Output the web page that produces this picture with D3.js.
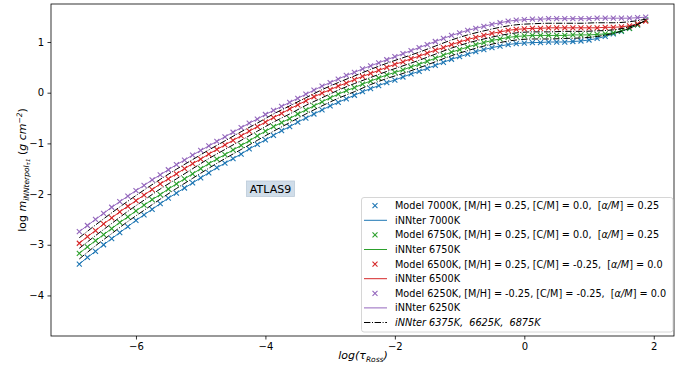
<!DOCTYPE html>
<html lang="en">
<head>
<meta charset="utf-8">
<title>atlas9 column mass</title>
<script src="https://cdn.jsdelivr.net/npm/d3@7"></script>
<style>
body { margin: 0; background: #fff; }
text { font-family: "DejaVu Sans", sans-serif; white-space: pre; }
</style>
</head>
<body>
<div id="chart"></div>
<script>
// log tau grid of the models
var tau = [-6.875,-6.75,-6.625,-6.5,-6.375,-6.25,-6.125,-6.0,-5.875,-5.75,-5.625,-5.5,-5.375,-5.25,-5.125,-5.0,
  -4.875,-4.75,-4.625,-4.5,-4.375,-4.25,-4.125,-4.0,-3.875,-3.75,-3.625,-3.5,-3.375,-3.25,-3.125,-3.0,
  -2.875,-2.75,-2.625,-2.5,-2.375,-2.25,-2.125,-2.0,-1.875,-1.75,-1.625,-1.5,-1.375,-1.25,-1.125,-1.0,
  -0.875,-0.75,-0.625,-0.5,-0.375,-0.25,-0.125,0.0,0.125,0.25,0.375,0.5,0.625,0.75,0.875,1.0,
  1.125,1.25,1.375,1.5,1.625,1.75,1.875];

var m7000 = [-3.38,-3.25,-3.13,-3.00,-2.88,-2.76,-2.64,-2.52,-2.41,-2.30,-2.19,-2.08,-1.98,-1.88,-1.78,-1.68,
  -1.58,-1.48,-1.39,-1.30,-1.21,-1.11,-1.02,-0.93,-0.84,-0.75,-0.67,-0.58,-0.50,-0.42,-0.34,-0.26,
  -0.19,-0.12,-0.05,0.02,0.08,0.14,0.20,0.25,0.31,0.37,0.42,0.48,0.54,0.60,0.66,0.71,
  0.76,0.81,0.85,0.89,0.92,0.95,0.97,0.98,0.99,0.99,1.00,1.00,1.00,1.01,1.02,1.04,
  1.07,1.11,1.16,1.21,1.27,1.34,1.43];
var m6750 = [-3.17,-3.04,-2.92,-2.80,-2.68,-2.56,-2.45,-2.33,-2.22,-2.11,-2.01,-1.90,-1.80,-1.70,-1.60,-1.50,
  -1.40,-1.31,-1.22,-1.13,-1.04,-0.95,-0.85,-0.76,-0.67,-0.59,-0.51,-0.42,-0.34,-0.26,-0.18,-0.10,
  -0.03,0.04,0.10,0.17,0.23,0.29,0.35,0.40,0.45,0.51,0.56,0.62,0.68,0.74,0.80,0.85,
  0.90,0.95,0.99,1.03,1.06,1.09,1.11,1.12,1.13,1.13,1.13,1.13,1.13,1.14,1.14,1.14,
  1.15,1.16,1.18,1.22,1.27,1.34,1.43];
var m6500 = [-2.97,-2.84,-2.72,-2.59,-2.47,-2.35,-2.24,-2.13,-2.02,-1.91,-1.80,-1.70,-1.60,-1.50,-1.40,-1.31,
  -1.21,-1.12,-1.03,-0.94,-0.85,-0.76,-0.67,-0.58,-0.49,-0.41,-0.32,-0.24,-0.16,-0.08,-0.01,0.06,
  0.13,0.19,0.26,0.32,0.38,0.44,0.50,0.56,0.61,0.67,0.72,0.78,0.84,0.89,0.95,1.00,
  1.05,1.09,1.13,1.17,1.20,1.23,1.25,1.26,1.27,1.27,1.28,1.28,1.28,1.28,1.28,1.28,
  1.28,1.29,1.29,1.30,1.32,1.36,1.41];
var m6250 = [-2.74,-2.62,-2.50,-2.38,-2.26,-2.15,-2.04,-1.93,-1.83,-1.72,-1.62,-1.52,-1.42,-1.33,-1.23,-1.14,
  -1.05,-0.96,-0.87,-0.78,-0.69,-0.60,-0.52,-0.43,-0.35,-0.27,-0.19,-0.11,-0.03,0.05,0.13,0.20,
  0.27,0.34,0.40,0.47,0.53,0.59,0.65,0.71,0.77,0.83,0.89,0.95,1.01,1.07,1.13,1.18,
  1.23,1.27,1.31,1.35,1.38,1.41,1.43,1.44,1.45,1.45,1.46,1.46,1.46,1.46,1.46,1.46,
  1.47,1.47,1.47,1.47,1.47,1.48,1.49];

// interpolated temperatures (dash-dot), every second grid point
var tauI = [-6.875,-6.625,-6.375,-6.125,-5.875,-5.625,-5.375,-5.125,-4.875,-4.625,-4.375,-4.125,
  -3.875,-3.625,-3.375,-3.125,-2.875,-2.625,-2.375,-2.125,-1.875,-1.625,-1.375,-1.125,
  -0.875,-0.625,-0.375,-0.125,0.125,0.375,0.625,0.875,1.125,1.375,1.625,1.875];
var i6875 = [-3.28,-3.02,-2.78,-2.54,-2.32,-2.10,-1.89,-1.69,-1.49,-1.30,-1.12,-0.94,
  -0.76,-0.59,-0.42,-0.26,-0.11,0.02,0.16,0.28,0.38,0.49,0.61,0.73,
  0.83,0.92,0.99,1.04,1.06,1.06,1.07,1.08,1.11,1.17,1.27,1.43];
var i6625 = [-3.07,-2.82,-2.58,-2.34,-2.12,-1.90,-1.70,-1.50,-1.30,-1.12,-0.94,-0.76,
  -0.58,-0.42,-0.25,-0.10,0.05,0.18,0.30,0.42,0.53,0.64,0.76,0.88,
  0.98,1.06,1.13,1.18,1.20,1.20,1.21,1.21,1.22,1.24,1.30,1.42];
var i6375 = [-2.86,-2.61,-2.37,-2.14,-1.92,-1.71,-1.51,-1.32,-1.13,-0.95,-0.77,-0.60,
  -0.42,-0.26,-0.10,0.06,0.20,0.33,0.46,0.58,0.69,0.80,0.92,1.04,
  1.14,1.22,1.29,1.34,1.36,1.37,1.37,1.37,1.38,1.38,1.40,1.45];

var xTicks = [-6, -4, -2, 0, 2];
var yTicks = [1, 0, -1, -2, -3, -4];

var series = [
  {m: m7000, color: "#1f77b4", label: "Model 7000K, [M/H] = 0.25, [C/M] = 0.0,  ", a: "0.25", line: "iNNter 7000K"},
  {m: m6750, color: "#2ca02c", label: "Model 6750K, [M/H] = 0.25, [C/M] = 0.0,  ", a: "0.25", line: "iNNter 6750K"},
  {m: m6500, color: "#d62728", label: "Model 6500K, [M/H] = 0.25, [C/M] = -0.25,  ", a: "0.0", line: "iNNter 6500K"},
  {m: m6250, color: "#9467bd", label: "Model 6250K, [M/H] = -0.25, [C/M] = -0.25,  ", a: "0.0", line: "iNNter 6250K"}
];

var W = 691, H = 369;
var pL = 51, pR = 674, pT = 4, pB = 336;

var svg = d3.select("#chart").append("svg")
  .attr("width", W).attr("height", H);

var x = d3.scaleLinear().domain([-7.3125, 2.3125]).range([pL, pR]);
var y = d3.scaleLinear().domain([-4.8, 1.75]).range([pB, pT]);

function minus(v) { return String(v).replace("-", "\u2212"); }

// axes
var xAxis = svg.append("g").attr("transform", "translate(0," + pB + ")")
  .call(d3.axisBottom(x).tickValues(xTicks).tickSize(3.5).tickPadding(3.5).tickFormat(minus));
var yAxis = svg.append("g").attr("transform", "translate(" + pL + ",0)")
  .call(d3.axisLeft(y).tickValues(yTicks).tickSize(3.5).tickPadding(3.5).tickFormat(minus));
[xAxis, yAxis].forEach(function(g) {
  g.select(".domain").remove();
  g.selectAll("line").attr("stroke", "#000").attr("stroke-width", 0.8);
  g.selectAll("text").attr("font-family", "DejaVu Sans").attr("font-size", "10px").attr("fill", "#000");
});

var line = d3.line().x(function(d, i) { return x(tau[i]); }).y(function(d) { return y(d); });
var lineI = d3.line().x(function(d, i) { return x(tauI[i]); }).y(function(d) { return y(d); });

function cross(g, cx, cy, color) {
  var s = 2.5;
  g.append("path")
    .attr("d", "M" + (cx - s) + "," + (cy - s) + "L" + (cx + s) + "," + (cy + s) +
               "M" + (cx - s) + "," + (cy + s) + "L" + (cx + s) + "," + (cy - s))
    .attr("stroke", color).attr("stroke-width", 1.1).attr("fill", "none");
}

var plot = svg.append("g");
series.forEach(function(s) {
  s.m.forEach(function(v, i) { cross(plot, x(tau[i]), y(v), s.color); });
  plot.append("path").datum(s.m).attr("d", line)
    .attr("fill", "none").attr("stroke", s.color).attr("stroke-width", 1);
});
[i6875, i6625, i6375].forEach(function(arr) {
  plot.append("path").datum(arr).attr("d", lineI.curve(d3.curveMonotoneX))
    .attr("fill", "none").attr("stroke", "#000").attr("stroke-width", 1)
    .attr("stroke-dasharray", "6.4,1.6,1,1.6");
});

// frame
svg.append("rect").attr("x", pL).attr("y", pT)
  .attr("width", pR - pL).attr("height", pB - pT)
  .attr("fill", "none").attr("stroke", "#000").attr("stroke-width", 0.8);

// ATLAS9 label
svg.append("rect").attr("x", 246.5).attr("y", 181).attr("width", 48).attr("height", 15.5)
  .attr("fill", "#d0dde9").attr("stroke", "#bccbd9").attr("stroke-width", 0.8);
svg.append("text").attr("x", 270.5).attr("y", 192.5).attr("text-anchor", "middle")
  .attr("font-size", "11px").attr("fill", "#000").text("ATLAS9");

// x label
var xl = svg.append("text").attr("x", 363).attr("y", 359).attr("text-anchor", "middle")
  .attr("font-size", "11px").attr("font-style", "italic");
xl.append("tspan").text("log(\u03c4");
xl.append("tspan").attr("font-size", "7.5px").attr("dy", 2.5).text("Ross");
xl.append("tspan").attr("dy", -2.5).text(")");

// y label
var yl = svg.append("text").attr("transform", "translate(26,170) rotate(-90)")
  .attr("text-anchor", "middle").attr("font-size", "11px");
yl.append("tspan").text("log ");
yl.append("tspan").attr("font-style", "italic").text("m");
yl.append("tspan").attr("font-style", "italic").attr("font-size", "7.5px").attr("dy", 2.5).text("iNNterpol");
yl.append("tspan").attr("font-style", "italic").attr("font-size", "5.5px").attr("dy", 1.5).text("\u03c41");
yl.append("tspan").attr("dy", -4).text(" (");
yl.append("tspan").attr("font-style", "italic").text("g cm");
yl.append("tspan").attr("font-style", "italic").attr("font-size", "7.5px").attr("dy", -4).text("\u22122");
yl.append("tspan").attr("dy", 4).text(")");

// legend
var lg = svg.append("g");
lg.append("rect").attr("x", 361.5).attr("y", 197.5).attr("width", 311.5).attr("height", 134.5)
  .attr("rx", 2.5).attr("fill", "#fff").attr("fill-opacity", 0.85)
  .attr("stroke", "#cccccc").attr("stroke-width", 0.8);
var rowY = 205.7, rowH = 14.6, fs = "9.7px";
series.forEach(function(s, k) {
  var y0 = rowY + rowH * 2 * k;
  cross(lg, 375, y0, s.color);
  var t = lg.append("text").attr("x", 395).attr("y", y0 + 3.4).attr("font-size", fs);
  t.append("tspan").text(s.label);
  t.append("tspan").text("[");
  t.append("tspan").attr("font-style", "italic").text("\u03b1/M");
  t.append("tspan").text("] = " + s.a);
  var y1 = y0 + rowH;
  lg.append("line").attr("x1", 364).attr("x2", 387).attr("y1", y1).attr("y2", y1)
    .attr("stroke", s.color).attr("stroke-width", 1);
  lg.append("text").attr("x", 395).attr("y", y1 + 3.4).attr("font-size", fs).text(s.line);
});
var yLast = rowY + rowH * 8;
lg.append("line").attr("x1", 364).attr("x2", 387).attr("y1", yLast).attr("y2", yLast)
  .attr("stroke", "#000").attr("stroke-width", 1).attr("stroke-dasharray", "6.4,1.6,1,1.6");
lg.append("text").attr("x", 395).attr("y", yLast + 3.4).attr("font-size", fs)
  .attr("font-style", "italic").text("iNNter 6375K,  6625K,  6875K");
</script>
</body>
</html>
